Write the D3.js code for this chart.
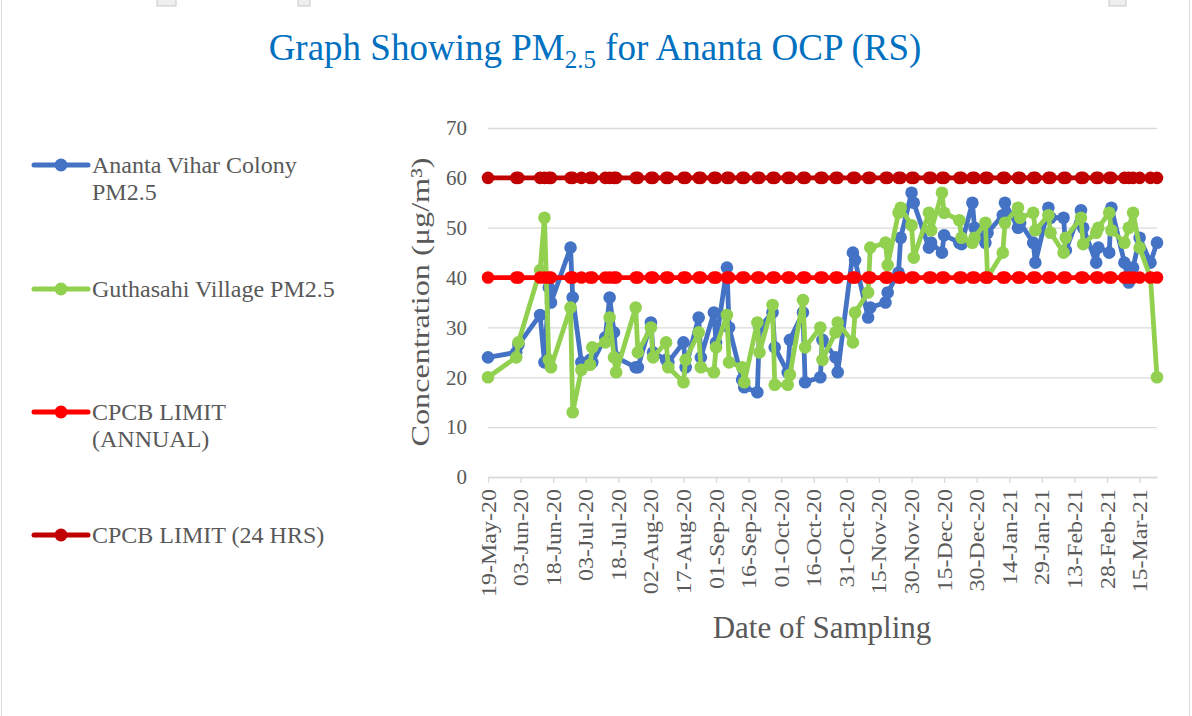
<!DOCTYPE html>
<html>
<head>
<meta charset="utf-8">
<script src="https://cdn.jsdelivr.net/npm/d3@7"></script>
<style>
body { margin: 0; background: #fff; }
text { font-family: "Liberation Serif", "Times New Roman", serif; }
</style>
</head>
<body>
<svg></svg>
<script>
var width = 1192,
    height = 716;

// sampling dates (twice a week, consecutive days mostly)
var sampleDates = [
    "2020-05-19", "2020-06-01", "2020-06-02", "2020-06-12", "2020-06-14", "2020-06-16", "2020-06-17", "2020-06-26", "2020-06-27", "2020-07-01",
    "2020-07-05", "2020-07-06", "2020-07-12", "2020-07-14", "2020-07-16", "2020-07-17", "2020-07-26", "2020-07-27", "2020-08-02", "2020-08-03",
    "2020-08-09", "2020-08-10", "2020-08-17", "2020-08-18", "2020-08-24", "2020-08-25", "2020-08-31", "2020-09-01", "2020-09-06", "2020-09-07",
    "2020-09-13", "2020-09-14", "2020-09-20", "2020-09-21", "2020-09-27", "2020-09-28", "2020-10-04", "2020-10-05", "2020-10-11", "2020-10-12",
    "2020-10-19", "2020-10-20", "2020-10-26", "2020-10-27", "2020-11-03", "2020-11-04", "2020-11-10", "2020-11-11", "2020-11-18", "2020-11-19",
    "2020-11-24", "2020-11-25", "2020-11-30", "2020-12-01", "2020-12-08", "2020-12-09", "2020-12-14", "2020-12-15", "2020-12-22", "2020-12-23",
    "2020-12-28", "2020-12-29", "2021-01-03", "2021-01-04", "2021-01-11", "2021-01-12", "2021-01-18", "2021-01-19", "2021-01-25", "2021-01-26",
    "2021-02-01", "2021-02-02", "2021-02-08", "2021-02-09", "2021-02-16", "2021-02-17", "2021-02-23", "2021-02-24", "2021-03-01", "2021-03-02",
    "2021-03-08", "2021-03-10", "2021-03-12", "2021-03-15", "2021-03-20", "2021-03-23"
];

var anantaPM = [
    24, 25, 26.5, 32.5, 23, 38, 35, 46, 36, 23,
    23.5, 23, 28, 36, 29, 24, 22, 22, 31, 25,
    23.5, 23, 27, 22, 32, 24, 33, 27, 42, 30,
    19.5, 18, 17, 30, 33, 26, 21, 27.5, 33, 19,
    20, 27.5, 24, 21, 45, 43.5, 32, 34, 35, 37,
    41, 48, 57, 55, 46, 47, 45, 48.5, 47, 46.7,
    55, 50, 47, 49, 52.5, 55, 50, 51, 47, 43,
    54, 52, 52, 45.5, 53.5, 50, 43, 46, 45, 54,
    43, 39, 42, 48, 43, 47
];

var guthasahiPM = [
    20, 24, 27, 41.5, 52, 23.5, 22, 34, 13, 21.5,
    22.5, 26, 27, 32, 24, 21, 34, 25, 30, 24,
    27, 22, 19, 23.5, 29, 22, 21, 26, 32.5, 23,
    22, 19, 31, 25, 34.5, 18.5, 18.5, 20.5, 35.5, 26,
    30, 23.5, 29, 31, 27, 33, 37, 46, 47, 42.5,
    53, 54, 50.5, 44, 53, 49.5, 57, 53, 51.5, 48,
    47, 48, 51, 40, 45, 51, 54, 52, 53, 49.5,
    52.5, 49, 45, 48, 52, 46.7, 49, 50, 53, 49.5,
    47, 50, 53, 46, 40, 20
];

var annualLimit = 40,
    dailyLimit = 60;

var yTicks = [0, 10, 20, 30, 40, 50, 60, 70];

var xTickLabels = [
    "19-May-20", "03-Jun-20", "18-Jun-20", "03-Jul-20", "18-Jul-20", "02-Aug-20", "17-Aug-20",
    "01-Sep-20", "16-Sep-20", "01-Oct-20", "16-Oct-20", "31-Oct-20", "15-Nov-20", "30-Nov-20",
    "15-Dec-20", "30-Dec-20", "14-Jan-21", "29-Jan-21", "13-Feb-21", "28-Feb-21", "15-Mar-21"
];

var legendLabels = [
    ["Ananta Vihar Colony", "PM2.5"],
    ["Guthasahi Village PM2.5"],
    ["CPCB LIMIT", "(ANNUAL)"],
    ["CPCB LIMIT (24 HRS)"]
];

var colors = ["#4472C4", "#92D050", "#FF0000", "#C00000"];

var parseDate = d3.utcParse("%Y-%m-%d"),
    parseTick = d3.utcParse("%d-%b-%y");

var dates = sampleDates.map(parseDate);

var series = [
    anantaPM,
    guthasahiPM,
    dates.map(() => annualLimit),
    dates.map(() => dailyLimit)
].map(vals => vals.map((v, i) => ({ date: dates[i], value: v })));

var svg = d3.select("svg")
    .attr("width", width)
    .attr("height", height);

svg.append("rect")
    .attr("width", width)
    .attr("height", height)
    .attr("fill", "#fff");

// frame and page bits at the top
svg.append("rect")
    .attr("x", 1.5).attr("y", -2)
    .attr("width", 1188).attr("height", height + 4)
    .attr("fill", "none")
    .attr("stroke", "#D9D9D9");
[[157, 19], [298, 12], [1109, 17]].forEach(b => {
    svg.append("rect")
        .attr("x", b[0]).attr("y", -1)
        .attr("width", b[1]).attr("height", 7)
        .attr("fill", "#EEEEEE")
        .attr("stroke", "#C8C8C8");
});

var x = d3.scaleUtc()
    .domain(d3.extent(dates))
    .range([488, 1157]);

var y = d3.scaleLinear()
    .domain([0, 70])
    .range([477, 128]);

// y axis with gridlines
var yAxis = svg.append("g")
    .attr("transform", "translate(488,0)")
    .call(d3.axisLeft(y)
        .tickValues(yTicks)
        .tickSize(-(1157 - 488))
        .tickPadding(21));
yAxis.select(".domain").remove();
yAxis.selectAll("line").attr("stroke", "#D9D9D9").attr("stroke-width", 1.3);
yAxis.selectAll("text")
    .attr("fill", "#595959")
    .style("font-size", "21px");

// x axis
var xAxis = svg.append("g")
    .attr("transform", "translate(0,477)")
    .call(d3.axisBottom(x)
        .tickValues(xTickLabels.map(parseTick))
        .tickFormat((d, i) => xTickLabels[i])
        .tickSize(6)
        .tickSizeOuter(0));
xAxis.select(".domain").attr("stroke", "#D9D9D9").attr("stroke-width", 1.3);
xAxis.selectAll("line").attr("stroke", "#D9D9D9").attr("stroke-width", 1.3);
xAxis.selectAll("text")
    .attr("x", 0)
    .attr("y", 0)
    .attr("dy", "0.35em")
    .attr("text-anchor", "end")
    .attr("transform", "translate(0,12) rotate(-90) scale(1.2,1)")
    .attr("fill", "#595959")
    .style("font-size", "20px");

// series
var line = d3.line()
    .x(d => x(d.date))
    .y(d => y(d.value));

series.forEach((s, k) => {
    var g = svg.append("g");
    g.append("path")
        .datum(s)
        .attr("d", line)
        .attr("fill", "none")
        .attr("stroke", colors[k])
        .attr("stroke-width", 4.8)
        .attr("stroke-linejoin", "round")
        .attr("stroke-linecap", "round");
    g.selectAll("circle")
        .data(s)
        .enter().append("circle")
        .attr("cx", d => x(d.date))
        .attr("cy", d => y(d.value))
        .attr("r", 6.3)
        .attr("fill", colors[k]);
});

// axis titles
svg.append("text")
    .attr("transform", "translate(420,302) rotate(-90) scale(1.24,1)")
    .attr("text-anchor", "middle")
    .attr("dy", "0.35em")
    .attr("fill", "#595959")
    .style("font-size", "26px")
    .text("Concentration (μg/m³)");

svg.append("text")
    .attr("x", 822)
    .attr("y", 638)
    .attr("text-anchor", "middle")
    .attr("fill", "#595959")
    .style("font-size", "31px")
    .text("Date of Sampling");

// chart title
var title = svg.append("text")
    .attr("x", 595)
    .attr("y", 60)
    .attr("text-anchor", "middle")
    .attr("fill", "#0070C0")
    .style("font-size", "37px");
title.append("tspan").text("Graph Showing PM");
title.append("tspan").attr("dy", 8).style("font-size", "25px").text("2.5");
title.append("tspan").attr("dy", -8).text(" for Ananta OCP (RS)");

// legend
var legendY = [165, 289, 412, 535];
legendLabels.forEach((lines, k) => {
    var g = svg.append("g").attr("transform", "translate(0," + legendY[k] + ")");
    g.append("line")
        .attr("x1", 34).attr("x2", 88)
        .attr("stroke", colors[k])
        .attr("stroke-width", 5)
        .attr("stroke-linecap", "round");
    g.append("circle")
        .attr("cx", 61)
        .attr("r", 6.5)
        .attr("fill", colors[k]);
    g.selectAll("text")
        .data(lines)
        .enter().append("text")
        .attr("x", 92)
        .attr("y", (d, i) => 8 + i * 27)
        .attr("fill", "#595959")
        .style("font-size", "24px")
        .text(d => d);
});
</script>
</body>
</html>
